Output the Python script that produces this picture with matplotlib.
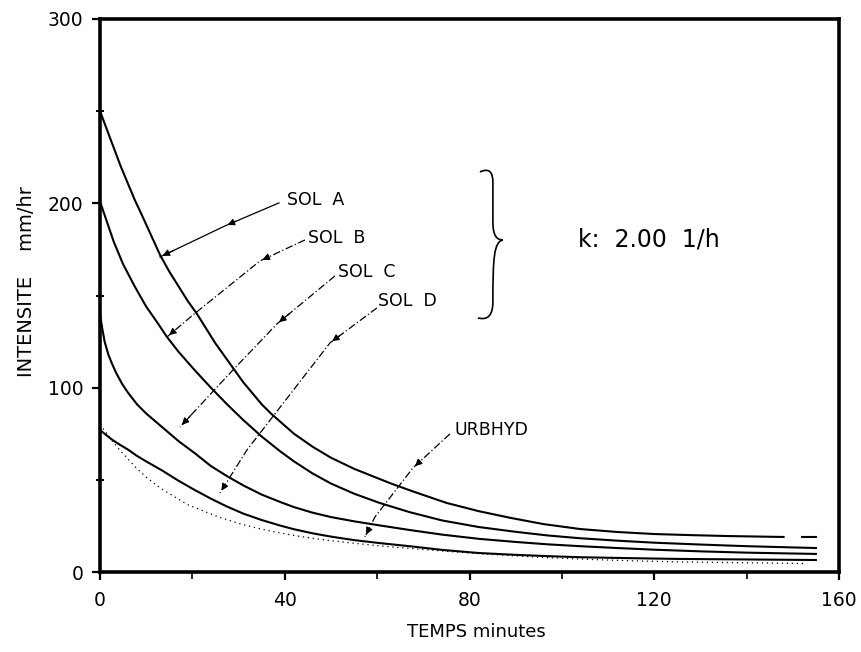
import numpy as np
import matplotlib
matplotlib.use("Agg")
import matplotlib.pyplot as plt
from matplotlib.path import Path
from matplotlib.patches import PathPatch

# ---- data (time in minutes, intensity in mm/h) ----
t_a = [0, 1.5, 3, 4.5, 6, 7.5, 9, 11, 13, 15, 17, 19, 21, 23, 25, 27, 29, 31, 33, 35, 37,
       39.5, 42, 46, 50, 55, 59, 63, 68, 75, 82, 89, 96, 104, 112, 120, 128, 136, 148,
       150, 152, 155]
sol_a = [250, 240, 230, 220, 211, 202, 194, 183, 172, 163, 155, 147, 140, 132, 124, 117,
         110, 103, 97, 91, 86, 80.5, 75, 68, 62, 56, 52, 48, 43.5, 37.5, 33, 29.3, 26,
         23.3, 21.7, 20.6, 20, 19.5, 19, np.nan, 19, 19]

t_b = [0, 1.5, 3, 5, 7.5, 10, 12.5, 14.5, 17, 20.5, 24, 27.5, 31, 35, 39, 42, 46, 50,
       55, 60.5, 67, 74, 82, 90, 97, 104, 112, 120, 130, 140, 155]
sol_b = [201, 190, 179, 167, 155, 144, 135, 127.5, 119.5, 109.5, 100, 91, 82.5, 73.5,
         65.5, 60, 53.5, 48, 42.5, 37.5, 32.5, 28, 24.4, 21.8, 19.8, 18.3, 17, 15.9, 14.9,
         14, 13]

t_c = [0, 0.5, 1, 1.8, 2.6, 3.5, 4.8, 6, 8, 10, 13.5, 17, 20.5, 24, 27.5, 31, 35, 39,
       42, 46, 50, 55, 60.5, 67, 74, 82, 90, 97, 104, 112, 120, 130, 140, 155]
sol_c = [140, 132, 125, 118, 113, 108, 102, 97.5, 91, 86, 78.5, 71, 64.5, 57.5, 52, 47,
         42, 38, 35.2, 32.2, 29.8, 27.5, 25.3, 22.8, 20.3, 18, 16.3, 15, 14, 13, 12.1,
         11.2, 10.5, 9.8]

t_d = [0, 1, 2.5, 4, 6, 8, 10, 13.5, 17, 20.5, 24, 27.5, 31, 35, 39, 42, 46, 50, 55, 60.5,
       67, 74, 82, 90, 97, 104, 115, 125, 140, 155]
sol_d = [77, 75, 72, 69.5, 66.5, 63, 60, 55, 49.5, 44.5, 39.8, 35.5, 31.7, 28.2, 25.2,
         23.2, 21, 19.2, 17.3, 15.7, 14, 12, 10.3, 9.3, 8.6, 8, 7.5, 7.1, 6.8, 6.5]

t_u = [0, 1.5, 3, 4.5, 6, 8, 10, 11.5, 13, 14.7, 17, 19, 21, 23, 25.5, 28, 30.5, 33, 35.5,
       38, 42, 46, 50, 55, 60, 67, 75, 85, 95, 105, 115, 125, 140, 153]
urbhyd = [80, 75, 70, 65.5, 61.5, 56, 51.5, 48.5, 45.7, 43, 39.5, 36.5, 34.5, 32.5, 30,
          28, 26, 24.4, 23, 21.7, 19.8, 18.3, 17, 15.6, 14.3, 12.8, 11.2, 9.5, 8, 6.9,
          6.1, 5.5, 5, 4.6]

x_ticks = [0, 40, 80, 120, 160]
y_ticks = [0, 100, 200, 300]

fig = plt.figure(figsize=(8.61, 6.52), dpi=100)
ax = fig.add_axes([100/861, 1-572/652, 739/861, 553/652])
ax.set_xlim(0, 160)
ax.set_ylim(0, 300)

lw = 1.5
ax.plot(t_a, sol_a, color='black', lw=lw)
ax.plot(t_b, sol_b, color='black', lw=lw)
ax.plot(t_c, sol_c, color='black', lw=lw)
ax.plot(t_d, sol_d, color='black', lw=lw)
ax.plot(t_u, urbhyd, color='black', lw=0.9, ls=(0, (1, 3)))

for s in ax.spines.values():
    s.set_linewidth(2.6)

ax.set_xticks(x_ticks)
ax.set_xticks(np.arange(0, 161, 20), minor=True)
ax.set_yticks(y_ticks)
ax.set_yticks([50, 150, 250], minor=True)
ax.tick_params(axis='both', which='major', length=6, width=1.6, labelsize=13.5,
               direction='out', pad=6)
ax.tick_params(axis='x', which='minor', length=5, width=1.2, direction='out')
ax.tick_params(axis='y', which='minor', length=6, width=1.4, direction='inout')
ax.tick_params(axis='x', which='major', pad=8)

fig.text(27/861, 1-282/652, 'INTENSITE    mm/hr', rotation=90, ha='center', va='center',
         fontsize=14)
fig.text(476/861, 1-632/652, 'TEMPS minutes', ha='center', va='center', fontsize=13)


def pointer(pts, ls, mid):
    xs = [p[0] for p in pts]
    ys = [p[1] for p in pts]
    ax.plot(xs, ys, color='black', lw=0.9, ls=ls)
    for (p0, p1) in [(pts[mid - 1], pts[mid]), (pts[-2], pts[-1])]:
        ax.annotate('', xy=p1, xytext=(p1[0] + (p0[0] - p1[0]) * 0.25,
                                        p1[1] + (p0[1] - p1[1]) * 0.25),
                    arrowprops=dict(arrowstyle='-|>', color='black', lw=0.9,
                                    mutation_scale=10))


def px(x, y):
    return ((x - 100) / 4.62, (572 - y) / 1.843)


fs = 12.5
ax.text(*px(287, 200), 'SOL  A', fontsize=fs, va='center', ha='left')
ax.text(*px(308, 238), 'SOL  B', fontsize=fs, va='center', ha='left')
ax.text(*px(338, 272), 'SOL  C', fontsize=fs, va='center', ha='left')
ax.text(*px(378, 301), 'SOL  D', fontsize=fs, va='center', ha='left')
ax.text(*px(455, 430), 'URBHYD', fontsize=fs, va='center', ha='left')
ax.text(*px(578, 240), 'k:  2.00  1/h', fontsize=17, va='center', ha='left')

dash = (0, (6, 2, 1, 2))
pointer([px(279, 203), px(225, 226), px(160, 257)], '-', 1)
pointer([px(305, 240), px(260, 261), px(193, 315), px(167, 337)], dash, 1)
pointer([px(335, 276), px(277, 324), px(233, 370), px(180, 427)], dash, 1)
pointer([px(377, 308), px(330, 343), px(247, 450), px(220, 493)], dash, 1)
pointer([px(450, 434), px(413, 468), px(375, 517), px(365, 537)], dash, 1)

# curly brace
codes = [Path.MOVETO, Path.CURVE3, Path.CURVE3, Path.LINETO,
         Path.CURVE4, Path.CURVE4, Path.CURVE4,
         Path.CURVE4, Path.CURVE4, Path.LINETO,
         Path.CURVE3, Path.CURVE3, Path.LINETO]
bp = [px(480, 172), px(493, 166), px(493, 182), px(493, 222),
      px(493, 236), px(497, 240), px(503, 240),
      px(494, 242), px(493, 258), px(493, 302),
      px(493, 322), px(478, 318), px(478, 318)]
ax.add_patch(PathPatch(Path(bp, codes), fill=False, lw=1.2, color='black'))

fig.savefig('out.png', dpi=100)
